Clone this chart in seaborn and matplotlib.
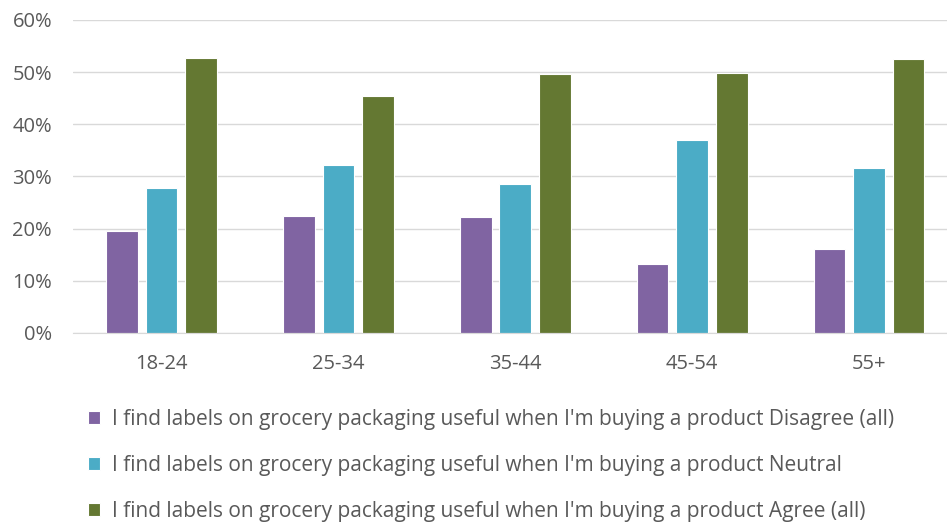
import matplotlib
matplotlib.use('Agg')
import matplotlib.pyplot as plt
import pandas as pd
import seaborn as sns
from matplotlib.ticker import PercentFormatter

age_groups = ['18-24', '25-34', '35-44', '45-54', '55+']
series_names = [
    "I find labels on grocery packaging useful when I'm buying a product Disagree (all)",
    "I find labels on grocery packaging useful when I'm buying a product Neutral",
    "I find labels on grocery packaging useful when I'm buying a product Agree (all)",
]
disagree = [19.5, 22.4, 22.2, 13.2, 16.1]
neutral = [27.8, 32.2, 28.5, 37.0, 31.6]
agree = [52.7, 45.4, 49.6, 49.8, 52.5]
colors = ['#8064A2', '#4BACC6', '#647832']

rows = []
for name, vals in zip(series_names, [disagree, neutral, agree]):
    for age, v in zip(age_groups, vals):
        rows.append({'age': age, 'series': name, 'value': v})
df = pd.DataFrame(rows)

sns.set_style('white')
plt.rcParams['font.family'] = ['Open Sans', 'DejaVu Sans']

fig = plt.figure(figsize=(9.47, 5.25), dpi=100)
ax = fig.add_axes([0.077, 0.366, 0.923, 0.596])

sns.barplot(data=df, x='age', y='value', hue='series', palette=colors, saturation=1,
            width=0.67, gap=0.2, edgecolor='white', linewidth=0.8, ax=ax, legend=True)

ax.set_ylim(0, 60)
ax.set_xlim(-0.5, 4.44)
ax.set_yticks(range(0, 61, 10))
ax.yaxis.set_major_formatter(PercentFormatter(decimals=0))
ax.grid(axis='y', color='#D9D9D9', linewidth=1)
ax.set_axisbelow(True)
for s in ['top', 'right', 'left']:
    ax.spines[s].set_visible(False)
ax.spines['bottom'].set_color('#D9D9D9')
ax.tick_params(axis='both', length=0, labelsize=14.5, labelcolor='#595959')
ax.tick_params(axis='x', pad=15)
ax.tick_params(axis='y', pad=15)
ax.set_xlabel('')
ax.set_ylabel('')

handles, labels = ax.get_legend_handles_labels()
ax.legend_.remove()
fig.legend(handles, labels, loc='upper left', bbox_to_anchor=(0.093, 0.221),
           frameon=False, fontsize=15, labelcolor='#595959',
           handlelength=0.55, handleheight=0.55, handletextpad=0.6, labelspacing=1.2,
           borderaxespad=0, borderpad=0)

fig.savefig('out.png', dpi=100)
